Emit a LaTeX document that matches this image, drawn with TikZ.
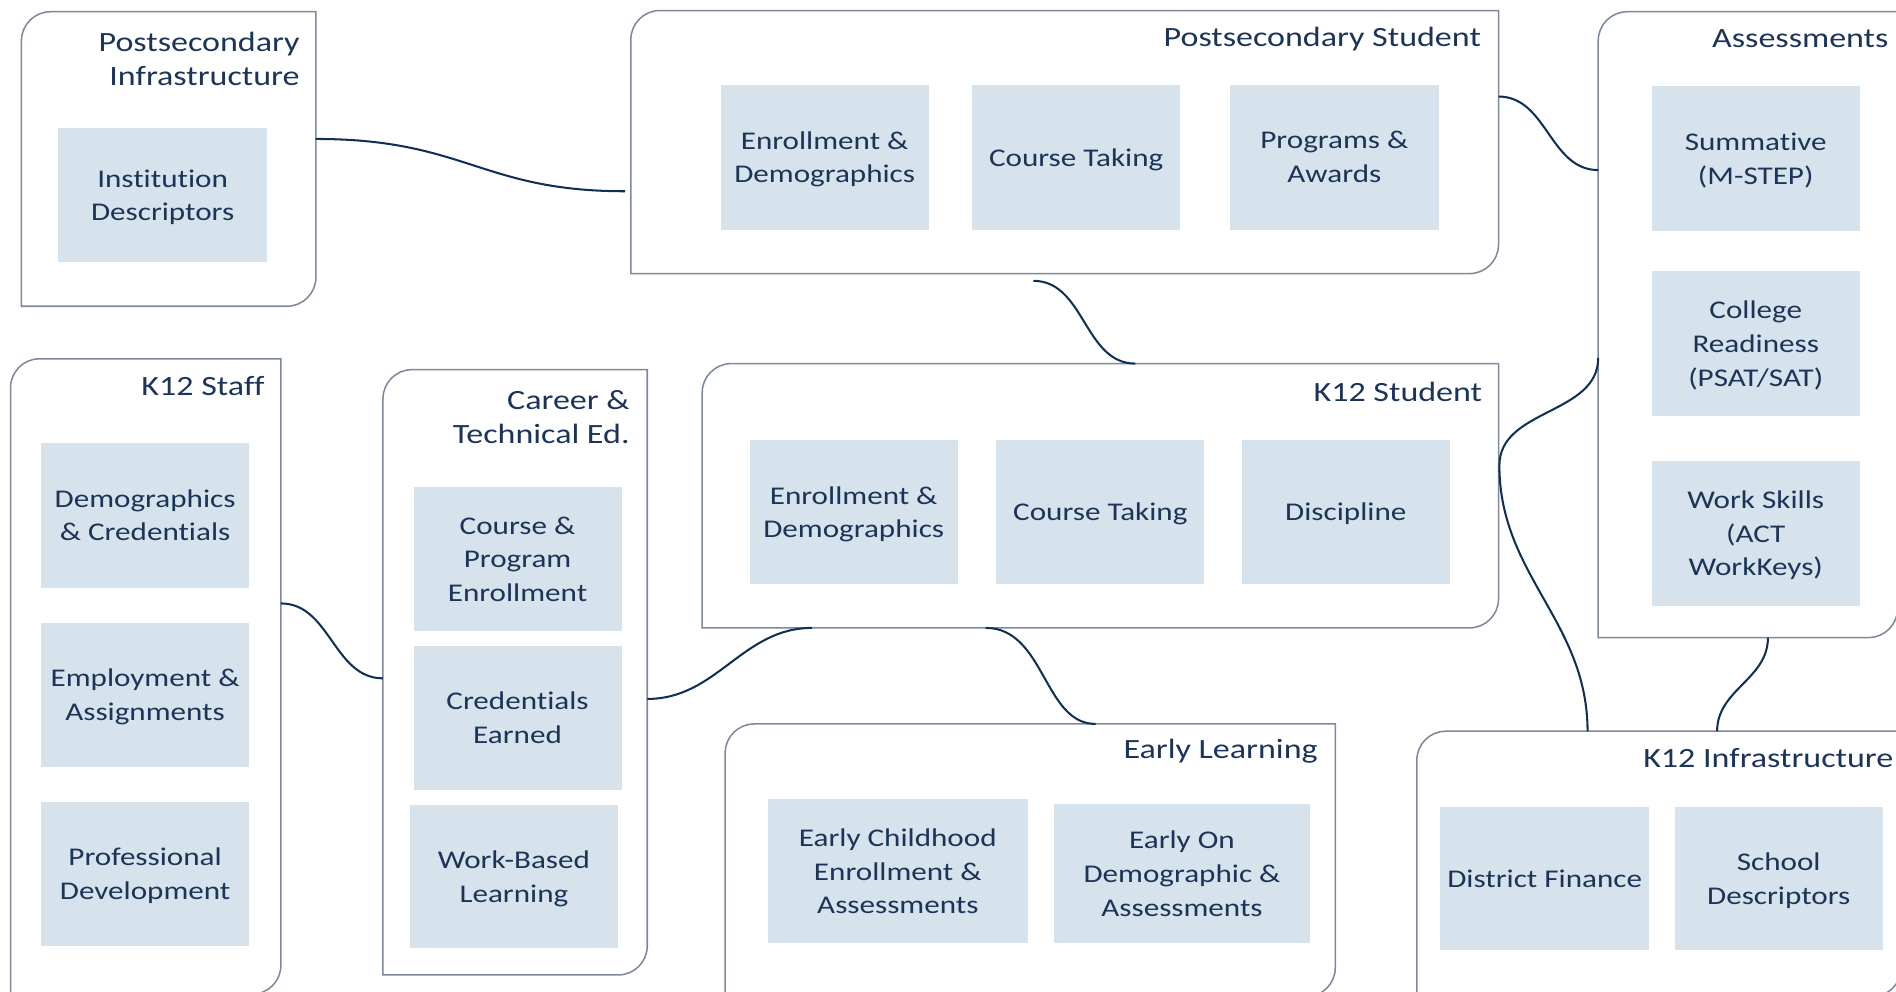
\documentclass[tikz,border=0pt]{standalone}
\usepackage{fontspec}
\setmainfont{Carlito}[FakeStretch=1.22, Ligatures=NoCommon]
\usetikzlibrary{fit,calc}
\definecolor{navy}{HTML}{1C3458}
\definecolor{edgecol}{HTML}{7E889C}
\definecolor{cell}{HTML}{D6E3EC}
\definecolor{wirecol}{HTML}{0F2F55}
\newcommand\frameit[1]{\draw[outline] (#1.south west) -- ([yshift=-0.6cm]#1.north west) arc[start angle=180,end angle=90,radius=0.6cm] -- (#1.north east) -- ([yshift=0.6cm]#1.south east) arc[start angle=0,end angle=-90,radius=0.6cm] -- cycle;}
\newcommand\itm[6]{\node[item, minimum width={(#4-#2)*0.025cm}, minimum height={(#3-#5)*0.025cm}, text depth={-0.15cm}] (#1) at ({(#2+#4)/2},{(#3+#5)/2}) {#6};}
\begin{document}
\begin{tikzpicture}[x=0.025cm,y=0.025cm,
  cont/.style={inner sep=0pt, draw=none},
  item/.style={inner sep=0pt, fill=cell, text=navy, align=center, font=\fontsize{15}{19.9}\selectfont},
  ttl/.style={inner sep=0pt, text=navy, align=right, font=\fontsize{16.4}{19.9}\selectfont, anchor=east},
  outline/.style={draw=edgecol, line width=0.9pt},
  link/.style={draw=wirecol, line width=1.2pt}]
\useasboundingbox (0,0) rectangle (1568,820);
\clip (0,0) rectangle (1568,820);

% containers
\node[cont, fit={(18,810) (261,567)}] (pinfra) {};
\node[cont, fit={(522,811) (1239,594)}] (pstud) {};
\node[cont, fit={(1322,810) (1569,293)}] (assess) {};
\node[cont, fit={(9,523) (232,-2)}] (kstaff) {};
\node[cont, fit={(317,514) (535,14)}] (cte) {};
\node[cont, fit={(581,519) (1239,301)}] (kstud) {};
\node[cont, fit={(600,221) (1104,-4)}] (early) {};
\node[cont, fit={(1172,215) (1572,-4)}] (kinfra) {};
\frameit{pinfra}\frameit{pstud}\frameit{assess}\frameit{kstaff}
\frameit{cte}\frameit{kstud}\frameit{early}\frameit{kinfra}

% titles
\node[ttl] (tpinfra) at (248,771.5) {Postsecondary\\Infrastructure};
\node[ttl] (tpstud) at (1225,788) {Postsecondary Student};
\node[ttl] (tassess) at (1562,788) {Assessments};
\node[ttl] (tkstaff) at (219,501) {K12 Staff};
\node[ttl] (tcte) at (521,475) {Career \&\\Technical Ed.};
\node[ttl] (tkstud) at (1226,496) {K12 Student};
\node[ttl] (tearly) at (1090,199) {Early Learning};
\node[ttl] (tkinfra) at (1566,193) {K12 Infrastructure};

% items
\itm{id}{48}{714}{221}{603}{Institution\\Descriptors}
\itm{ps1}{596}{750}{768}{630}{Enrollment \&\\Demographics}
\itm{ps2}{804}{750}{976}{630}{Course Taking}
\itm{ps3}{1017}{750}{1190}{630}{Programs \&\\Awards}
\itm{a1}{1366}{749}{1538}{629}{Summative\\(M-STEP)}
\itm{a2}{1366}{596}{1538}{476}{College\\Readiness\\(PSAT/SAT)}
\itm{a3}{1366}{439}{1538}{319}{Work Skills\\(ACT\\WorkKeys)}
\itm{ks1}{34}{454}{206}{334}{Demographics\\\& Credentials}
\itm{ks2}{34}{305}{206}{186}{Employment \&\\Assignments}
\itm{ks3}{34}{157}{206}{38}{Professional\\Development}
\itm{c1}{342}{417}{514}{298}{Course \&\\Program\\Enrollment}
\itm{c2}{342}{286}{514}{167}{Credentials\\Earned}
\itm{c3}{339}{154}{511}{36}{Work-Based\\Learning}
\itm{kt1}{620}{456}{792}{337}{Enrollment \&\\Demographics}
\itm{kt2}{824}{456}{996}{337}{Course Taking}
\itm{kt3}{1027}{456}{1199}{337}{Discipline}
\itm{e1}{635}{159}{850}{40}{Early Childhood\\Enrollment \&\\Assessments}
\itm{e2}{872}{155}{1083}{40}{Early On\\Demographic \&\\Assessments}
\itm{i1}{1191}{153}{1364}{34}{District Finance}
\itm{i2}{1385}{153}{1557}{34}{School\\Descriptors}

% connectors
\coordinate (dmid) at (1240,435);
\draw[link, shorten >=0.12cm] ($(pinfra.north east)!0.432!(pinfra.south east)$) to[out=0,in=180,looseness=1.2] ($(pstud.north west)!0.687!(pstud.south west)$);
\draw[link] ([yshift=-0.15cm]$(pstud.south west)!0.464!(pstud.south east)$) to[out=0,in=180] ($(kstud.north west)!0.544!(kstud.north east)$);
\draw[link] ($(pstud.north east)!0.327!(pstud.south east)$) to[out=0,in=180] ($(assess.north west)!0.253!(assess.south west)$);
\draw[link] ($(assess.north west)!0.553!(assess.south west)$) to[out=-90,in=90] (dmid) to[out=-90,in=90] ($(kinfra.north west)!0.3525!(kinfra.north east)$);
\draw[link] ($(assess.south west)!0.567!(assess.south east)$) to[out=-90,in=90] ($(kinfra.north west)!0.62!(kinfra.north east)$);
\draw[link] ($(kstaff.north east)!0.385!(kstaff.south east)$) to[out=0,in=180] ($(cte.north west)!0.51!(cte.south west)$);
\draw[link] ($(cte.north east)!0.544!(cte.south east)$) to[out=0,in=180] ($(kstud.south west)!0.138!(kstud.south east)$);
\draw[link, shorten >=0.15cm] ($(kstud.south west)!0.356!(kstud.south east)$) to[out=0,in=180] ($(early.north west)!0.619!(early.north east)$);
\end{tikzpicture}
\end{document}
